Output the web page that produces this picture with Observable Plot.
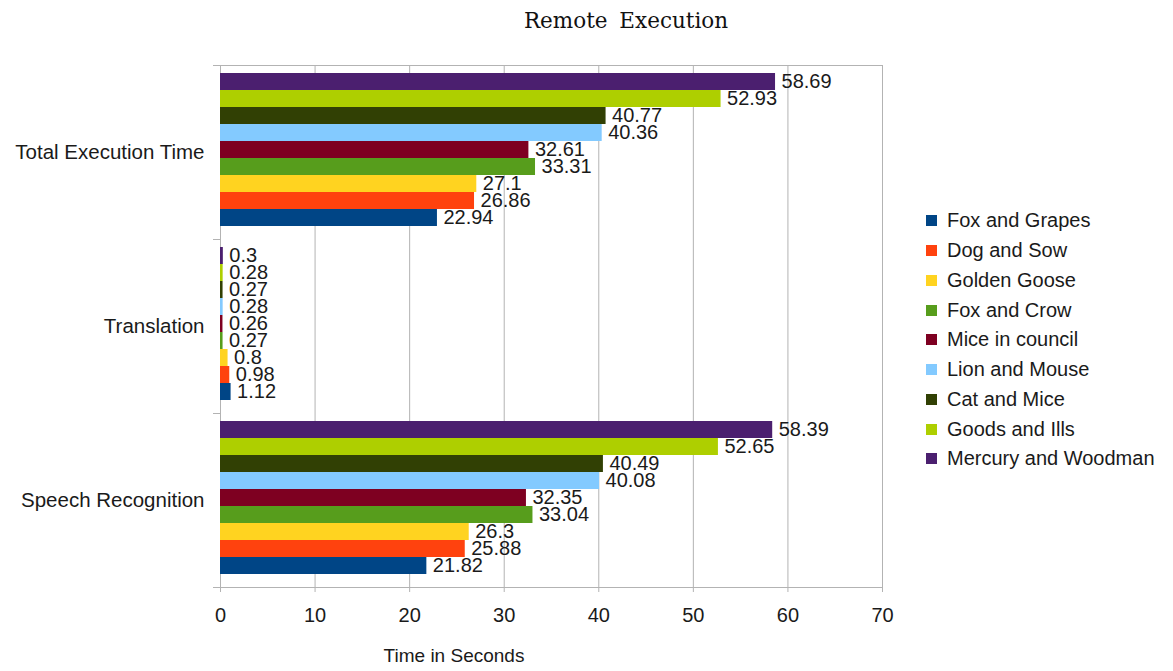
<!DOCTYPE html>
<html>
<head>
<meta charset="utf-8">
<script src="https://cdn.jsdelivr.net/npm/d3@7"></script>
<script src="https://cdn.jsdelivr.net/npm/@observablehq/plot@0.6"></script>
<style>
  html, body { margin: 0; padding: 0; background: #fff; }
  #page { position: relative; width: 1173px; height: 671px; overflow: hidden; background: #fff;
          font-family: "Liberation Sans", Arial, sans-serif; color: #1a1a1a; }
  #chart { position: absolute; left: 0; top: 0; }
  #title { position: absolute; left: 626px; top: 8px; transform: translateX(-50%);
           font-family: "DejaVu Serif", serif; font-size: 21.5px; word-spacing: 5px; white-space: nowrap; color: #111; }
  #xlabel { position: absolute; left: 454px; top: 645px; transform: translateX(-50%);
            font-size: 19px; white-space: nowrap; }
  #legend { position: absolute; left: 926px; top: 206px; }
  .item { display: flex; align-items: center; height: 29.75px; font-size: 20px; white-space: nowrap; }
  .swatch { width: 11px; height: 11px; margin-right: 10px; flex: none; }
</style>
</head>
<body>
<div id="page">
  <div id="chart"></div>
  <div id="title">Remote Execution</div>
  <div id="xlabel">Time in Seconds</div>
  <div id="legend"></div>
</div>
<script>
// Tasks (top to bottom) and the fables they were run on (legend order).
const tasks = ["Total Execution Time", "Translation", "Speech Recognition"];
const stories = ["Fox and Grapes", "Dog and Sow", "Golden Goose", "Fox and Crow", "Mice in council",
                 "Lion and Mouse", "Cat and Mice", "Goods and Ills", "Mercury and Woodman"];
const colors = ["#004586", "#ff420e", "#ffd320", "#579d1c", "#7e0021",
                "#83caff", "#314004", "#aecf00", "#4b1f6f"];

// Seconds per story, in the same order as `stories`.
const totalExecution = [22.94, 26.86, 27.1, 33.31, 32.61, 40.36, 40.77, 52.93, 58.69];
const translation = [1.12, 0.98, 0.8, 0.27, 0.26, 0.28, 0.27, 0.28, 0.3];
const speechRecognition = [21.82, 25.88, 26.3, 33.04, 32.35, 40.08, 40.49, 52.65, 58.39];

const xTicks = [0, 10, 20, 30, 40, 50, 60, 70];

const byTask = [totalExecution, translation, speechRecognition];
const rows = tasks.flatMap((task, i) =>
  stories.map((story, j) => ({task, story, seconds: byTask[i][j]})));

const gray = "#b3b3b3";
const plotWidth = 1173 - 220 - 291;

const chart = Plot.plot({
  width: 1173,
  height: 671,
  marginLeft: 220,
  marginRight: 291,
  marginTop: 64,
  marginBottom: 83,
  style: {fontFamily: "'Liberation Sans', Arial, sans-serif", fontSize: "20px", color: "#1a1a1a", background: "transparent"},
  x: {domain: [0, 70]},
  fy: {domain: tasks, padding: 0, label: null},
  y: {domain: stories.slice().reverse(), paddingInner: 0, paddingOuter: 0.52, align: 0.4, axis: null},
  color: {domain: stories, range: colors},
  marks: [
    Plot.gridX(xTicks, {stroke: gray, strokeOpacity: 1}),
    Plot.frame({anchor: "top", facetAnchor: "top", stroke: gray}),
    Plot.frame({anchor: "bottom", facetAnchor: "bottom", stroke: gray}),
    // short separators on the category axis
    Plot.frame({anchor: "top", insetLeft: -7, insetRight: plotWidth, stroke: gray}),
    Plot.frame({anchor: "bottom", facetAnchor: "bottom", insetLeft: -7, insetRight: plotWidth, stroke: gray}),
    Plot.barX(rows, {fy: "task", y: "story", x: "seconds", fill: "story"}),
    Plot.text(rows, {fy: "task", y: "story", x: "seconds", text: d => String(d.seconds),
                     dx: 6, textAnchor: "start", fill: "#1a1a1a", fontSize: 20}),
    Plot.axisX({anchor: "bottom", ticks: xTicks, tickSize: 5, tickPadding: 15, stroke: gray, label: null, fontSize: 20}),
    Plot.axisFy({anchor: "left", tickSize: 0, tickPadding: 16, label: null, fontSize: 20.5})
  ]
});
document.getElementById("chart").append(chart);

// Legend
const legend = d3.select("#legend");
stories.forEach((s, i) => {
  const item = legend.append("div").attr("class", "item");
  item.append("div").attr("class", "swatch").style("background", colors[i]);
  item.append("span").text(s);
});
</script>
</body>
</html>
